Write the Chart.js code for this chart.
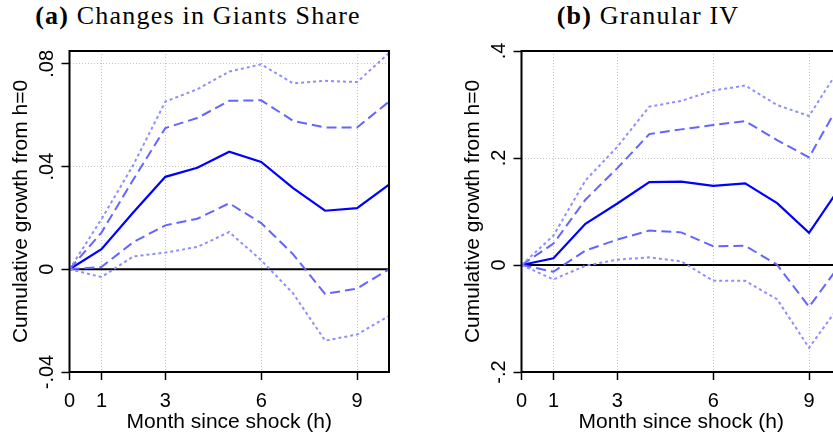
<!DOCTYPE html>
<html>
<head>
<meta charset="utf-8">
<script src="https://cdn.jsdelivr.net/npm/chart.js@4.4.1/dist/chart.umd.min.js"></script>
<style>
  html, body { margin: 0; padding: 0; background: #fff; }
  #figure { position: relative; width: 833px; height: 434px; overflow: hidden; background: #fff; }
  #figure canvas { position: absolute; top: 0; }
  .panel-title {
    position: absolute; top: 3px; width: 400px; text-align: center;
    font-family: "Liberation Serif", serif; font-size: 26px; line-height: 26px;
    color: #000; white-space: nowrap; letter-spacing: 1.2px;
  }
  .panel-title b { font-weight: bold; }
</style>
</head>
<body>
<div id="figure">
  <div class="panel-title" style="left:-2px"><b>(a)</b> Changes in Giants Share</div>
  <div class="panel-title" style="left:448px"><b>(b)</b> Granular IV</div>
  <canvas id="giants" width="420" height="434" style="left:0"></canvas>
  <canvas id="giv" width="420" height="434" style="left:452px"></canvas>
</div>
<script>
// horizon (months since shock)
var horizon = [0, 1, 2, 3, 4, 5, 6, 7, 8, 9, 10];
var xTicks = [0, 1, 3, 6, 9];

// (a) changes in giants share: point estimate and bands
var giantsCoef = [0, 0.0078, 0.0222, 0.0360, 0.0395, 0.0458, 0.0418, 0.0316, 0.0228, 0.0238, 0.0330];
var giantsHi90 = [0, 0.0143, 0.0350, 0.0550, 0.0589, 0.0656, 0.0658, 0.0578, 0.0552, 0.0552, 0.0653];
var giantsLo90 = [0, 0.0009, 0.0106, 0.0171, 0.0197, 0.0257, 0.0180, 0.0058, -0.0096, -0.0075, 0.0000];
var giantsHi95 = [0, 0.0195, 0.0407, 0.0653, 0.0701, 0.0770, 0.0798, 0.0724, 0.0734, 0.0729, 0.0842];
var giantsLo95 = [0, -0.0030, 0.0050, 0.0065, 0.0087, 0.0145, 0.0035, -0.0094, -0.0278, -0.0254, -0.0182];
var giantsYTicks = [-0.04, 0, 0.04, 0.08];
var giantsYLabels = ["-.04", "0", ".04", ".08"];

// (b) granular IV
var givCoef = [0, 0.0124, 0.0770, 0.1150, 0.1550, 0.1560, 0.1480, 0.1527, 0.1157, 0.0600, 0.1480];
var givHi90 = [0, 0.0400, 0.1220, 0.1810, 0.2447, 0.2535, 0.2616, 0.2690, 0.2334, 0.2010, 0.3070];
var givLo90 = [0, -0.0126, 0.0269, 0.0475, 0.0644, 0.0610, 0.0350, 0.0360, 0.0006, -0.0783, 0.0030];
var givHi95 = [0, 0.0550, 0.1580, 0.2210, 0.2960, 0.3067, 0.3260, 0.3355, 0.2990, 0.2785, 0.3720];
var givLo95 = [0, -0.0270, -0.0013, 0.0100, 0.0143, 0.0068, -0.0295, -0.0295, -0.0639, -0.1547, -0.0720];
var givYTicks = [-0.2, 0, 0.2, 0.4];
var givYLabels = ["-.2", "0", ".2", ".4"];

Chart.defaults.font.family = "'Liberation Sans', Arial, sans-serif";
Chart.defaults.color = "#000";

function points(ys) {
    return horizon.map(function (h, i) { return {x: h, y: ys[i]}; });
}

//frame, zero line and rotated y tick labels
var framePlugin = {
    id: "frame",
    beforeDatasetsDraw: function (chart) {
        var ctx = chart.ctx, a = chart.chartArea;
        var y0 = chart.scales.y.getPixelForValue(0);
        ctx.save();
        ctx.strokeStyle = "#000";
        ctx.lineWidth = 2;
        ctx.beginPath();
        ctx.moveTo(a.left, y0);
        ctx.lineTo(a.right, y0);
        ctx.stroke();
        ctx.restore();
    },
    afterDraw: function (chart) {
        var ctx = chart.ctx, a = chart.chartArea;
        var opts = chart.options.plugins.frame;
        ctx.save();
        ctx.strokeStyle = "#000";
        ctx.lineWidth = 2;
        ctx.strokeRect(a.left, a.top, a.right - a.left, a.bottom - a.top);

        ctx.font = "20px 'Liberation Sans', Arial, sans-serif";
        ctx.fillStyle = "#000";
        ctx.textAlign = "center";
        ctx.textBaseline = "alphabetic";
        opts.values.forEach(function (v, i) {
            var py = chart.scales.y.getPixelForValue(v);
            ctx.save();
            ctx.translate(a.left - 17, py);
            ctx.rotate(-Math.PI / 2);
            ctx.fillText(opts.labels[i], 0, 0);
            ctx.restore();
        });
        ctx.restore();
    }
};

function makeChart(id, coef, hi90, lo90, hi95, lo95, yMin, yMax, yTicks, yLabels) {
    var ctx = document.getElementById(id).getContext("2d");
    var gridColor = function (c) {
        if (!c.tick) return "rgba(0,0,0,0)";
        var v = c.tick.value;
        if (Math.abs(v) < 1e-9 || Math.abs(v - yMin) < 1e-9 || Math.abs(v - yMax) < 1e-9) return "rgba(0,0,0,0)";
        return "#c4c4c4";
    };
    var band = function (data, color, dash) {
        return {data: points(data), borderColor: color, borderWidth: 2, borderDash: dash,
                pointRadius: 0, tension: 0, fill: false};
    };
    return new Chart(ctx, {
        type: "line",
        data: {
            datasets: [
                band(hi95, "#8e8eff", [3, 3]),
                band(lo95, "#8e8eff", [3, 3]),
                band(hi90, "#6464ff", [10, 5]),
                band(lo90, "#6464ff", [10, 5]),
                {data: points(coef), borderColor: "#0000ff", borderWidth: 2.2,
                 pointRadius: 0, tension: 0, fill: false}
            ]
        },
        options: {
            responsive: false,
            animation: false,
            layout: {padding: {top: 51, right: 31, left: 0, bottom: 0}},
            plugins: {
                legend: {display: false},
                tooltip: {enabled: false},
                frame: {values: yTicks, labels: yLabels}
            },
            scales: {
                x: {
                    type: "linear",
                    min: 0,
                    max: 10,
                    afterBuildTicks: function (s) { s.ticks = xTicks.map(function (v) { return {value: v}; }); },
                    afterFit: function (s) { s.height = 62; },
                    grid: {color: gridColor, lineWidth: 1, tickLength: 8, tickColor: "#000", tickWidth: 1.5},
                    border: {display: false, dash: [1, 2]},
                    ticks: {padding: 9, font: {size: 20}, color: "#000", maxRotation: 0},
                    title: {display: true, text: "Month since shock (h)", font: {size: 21, lineHeight: 1.0},
                            padding: {top: 0, bottom: 1.5}, color: "#000"}
                },
                y: {
                    min: yMin,
                    max: yMax,
                    afterBuildTicks: function (s) { s.ticks = yTicks.map(function (v) { return {value: v}; }); },
                    afterFit: function (s) { s.width = 69.5; },
                    grid: {color: gridColor, lineWidth: 1, tickLength: 8, tickColor: "#000", tickWidth: 1.5},
                    border: {display: false, dash: [1, 2]},
                    ticks: {display: false},
                    title: {display: true, text: "Cumulative growth from h=0", font: {size: 21, lineHeight: 1.0},
                            padding: {top: 10.5, bottom: 30}, color: "#000"}
                }
            }
        },
        plugins: [framePlugin]
    });
}

makeChart("giants", giantsCoef, giantsHi90, giantsLo90, giantsHi95, giantsLo95, -0.04, 0.085, giantsYTicks, giantsYLabels);
makeChart("giv", givCoef, givHi90, givLo90, givHi95, givLo95, -0.2, 0.4, givYTicks, givYLabels);
</script>
</body>
</html>
